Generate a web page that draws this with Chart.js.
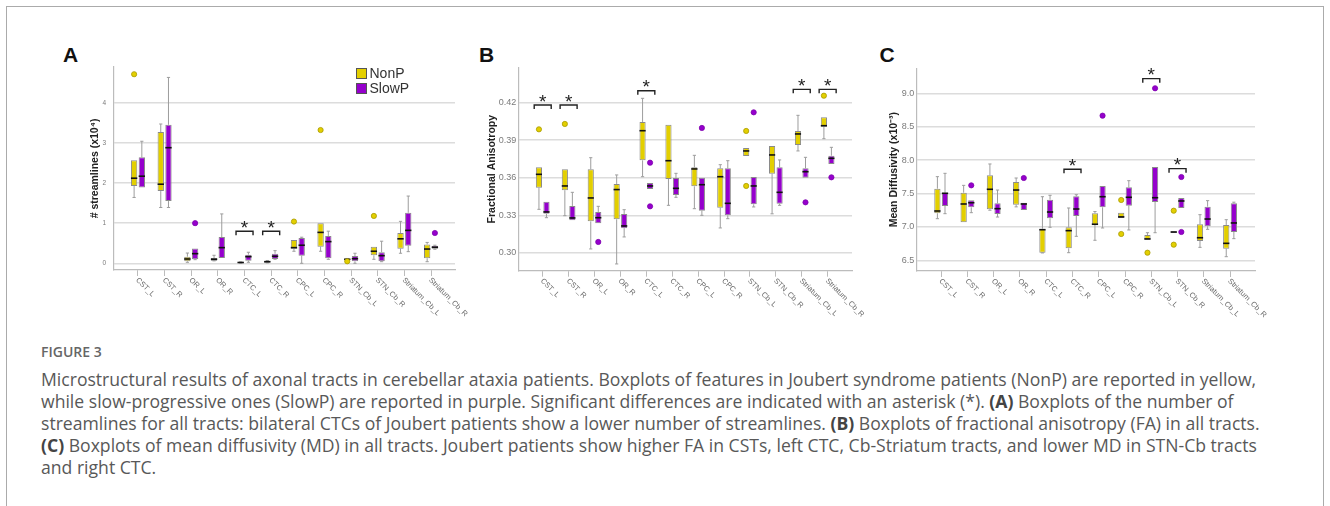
<!DOCTYPE html>
<html>
<head>
<meta charset="utf-8">
<script src="https://cdn.jsdelivr.net/npm/chart.js@4.4.0/dist/chart.umd.min.js"></script>
<style>
  body { margin: 0; background: #fff; width: 1330px; height: 506px; overflow: hidden; position: relative; font-family: "Liberation Sans", Arial, sans-serif; }
  #frame { position: absolute; left: 6px; top: 6px; width: 1316px; height: 600px; border: 1.5px solid #ababab; }
  .letter { position: absolute; font-size: 21px; line-height: 21px; font-weight: bold; color: #111; }
  .panel { position: absolute; top: 40px; width: 420px; height: 300px; }
  .key { position: absolute; width: 9px; height: 9px; border: 1.2px solid #555; }
  .keytext { position: absolute; font-size: 14px; line-height: 14px; color: #333; }
  #fig { position: absolute; left: 41px; top: 342px; font-family: "Open Sans", sans-serif; font-weight: 600; font-size: 14px; line-height: 20px; color: #666; }
  #caption { position: absolute; left: 41px; top: 369px; font-family: "Open Sans", sans-serif; font-size: 17.6px; line-height: 21.9px; color: #585858; white-space: nowrap; }
  #caption b { color: #444; }
</style>
</head>
<body>
<div id="frame"></div>

<div class="letter" style="left:63px;top:44px">A</div>
<div class="letter" style="left:479px;top:44px">B</div>
<div class="letter" style="left:879.5px;top:44px">C</div>

<div class="panel" style="left:40px;width:440px"><canvas id="chartA"></canvas></div>
<div class="panel" style="left:460px"><canvas id="chartB"></canvas></div>
<div class="panel" style="left:870px"><canvas id="chartC"></canvas></div>

<div class="key" style="left:356px;top:68px;background:#e3cf00"></div>
<div class="key" style="left:356px;top:83px;background:#9500cc"></div>
<div class="keytext" style="left:369.5px;top:66.4px">NonP</div>
<div class="keytext" style="left:369.5px;top:81.4px">SlowP</div>

<div id="fig">FIGURE 3</div>
<div id="caption">
  <div>Microstructural results of axonal tracts in cerebellar ataxia patients. Boxplots of features in Joubert syndrome patients (NonP) are reported in yellow,</div>
  <div>while slow-progressive ones (SlowP) are reported in purple. Significant differences are indicated with an asterisk (*). <b>(A)</b> Boxplots of the number of</div>
  <div>streamlines for all tracts: bilateral CTCs of Joubert patients show a lower number of streamlines. <b>(B)</b> Boxplots of fractional anisotropy (FA) in all tracts.</div>
  <div><b>(C)</b> Boxplots of mean diffusivity (MD) in all tracts. Joubert patients show higher FA in CSTs, left CTC, Cb-Striatum tracts, and lower MD in STN-Cb tracts</div>
  <div>and right CTC.</div>
</div>

<script>
'use strict';

const tracts = ['CST_L', 'CST_R', 'OR_L', 'OR_R', 'CTC_L', 'CTC_R', 'CPC_L', 'CPC_R',
  'STN_Cb_L', 'STN_Cb_R', 'Striatum_Cb_L', 'Striatum_Cb_R'];

// each box: [min, q1, median, q3, max]
const streamNonP = [
  [1.64, 1.925, 2.12, 2.57, 2.57], [1.39, 1.80, 1.97, 3.27, 3.47],
  [0.025, 0.05, 0.107, 0.165, 0.256], [0.06, 0.065, 0.10, 0.13, 0.20],
  [0.005, 0.01, 0.02, 0.03, 0.035], [0.01, 0.015, 0.04, 0.057, 0.07],
  [0.30, 0.365, 0.39, 0.58, 0.58], [0.30, 0.415, 0.77, 1.0, 1.0],
  [0.08, 0.08, 0.10, 0.115, 0.12], [0.10, 0.20, 0.30, 0.415, 0.415],
  [0.25, 0.365, 0.61, 0.755, 1.045], [0.04, 0.125, 0.355, 0.47, 0.52]
];
const streamSlowP = [
  [1.89, 1.89, 2.17, 2.64, 3.04], [1.39, 1.55, 2.88, 3.45, 4.63],
  [0.09, 0.10, 0.24, 0.37, 0.37], [0.13, 0.13, 0.39, 0.655, 1.23],
  [0.025, 0.065, 0.165, 0.215, 0.275], [0.10, 0.107, 0.175, 0.24, 0.315],
  [0.0, 0.19, 0.45, 0.63, 0.65], [0.10, 0.125, 0.54, 0.68, 0.80],
  [0.0, 0.05, 0.115, 0.18, 0.25], [0.04, 0.05, 0.19, 0.275, 0.55],
  [0.29, 0.44, 0.82, 1.26, 1.675], [0.35, 0.365, 0.40, 0.44, 0.45]
];
const streamOutNonP = [[4.71], [], [], [], [], [], [1.04], [3.32], [0.05], [1.18], [], []];
const streamOutSlowP = [[], [], [1.0], [], [], [], [], [], [], [], [], [0.755]];
const streamSig = [null, null, null, null, 0.8, 0.8, null, null, null, null, null, null];

const faNonP = [
  [0.3347, 0.352, 0.3627, 0.3683, 0.3683], [0.3296, 0.350, 0.3534, 0.3667, 0.3667],
  [0.303, 0.3251, 0.3438, 0.3667, 0.376], [0.291, 0.3267, 0.3505, 0.355, 0.3622],
  [0.3608, 0.3739, 0.3976, 0.4046, 0.4235], [0.3379, 0.359, 0.3736, 0.4024, 0.4024],
  [0.3352, 0.3531, 0.367, 0.3683, 0.3779], [0.3198, 0.336, 0.3608, 0.3675, 0.3704],
  [0.3774, 0.3774, 0.3814, 0.3838, 0.3838], [0.3311, 0.3632, 0.3782, 0.3854, 0.3854],
  [0.3814, 0.3862, 0.395, 0.3974, 0.4099], [0.3912, 0.4008, 0.4016, 0.4083, 0.4083]
];
const faSlowP = [
  [0.328, 0.3311, 0.3326, 0.3408, 0.3408], [0.3259, 0.3259, 0.3278, 0.3374, 0.3483],
  [0.3235, 0.3235, 0.328, 0.3326, 0.3371], [0.3126, 0.3196, 0.3214, 0.331, 0.3344],
  [0.351, 0.351, 0.3534, 0.3558, 0.3558], [0.3443, 0.3462, 0.3515, 0.3598, 0.3635],
  [0.3299, 0.3336, 0.3544, 0.36, 0.36], [0.3272, 0.3299, 0.3395, 0.3675, 0.3736],
  [0.3366, 0.3387, 0.3534, 0.3606, 0.3606], [0.3379, 0.3392, 0.3483, 0.3683, 0.3742],
  [0.36, 0.36, 0.3648, 0.3675, 0.3763], [0.371, 0.371, 0.3755, 0.3776, 0.3843]
];
const faOutNonP = [[0.3987], [0.403], [], [], [], [], [], [], [0.3974, 0.3534], [], [], [0.4256]];
const faOutSlowP = [[], [], [0.3086], [], [0.372, 0.3371], [], [0.3998], [], [0.4123], [], [0.3403], [0.3603]];
const faSig = [0.4182, 0.4182, null, null, 0.4296, null, null, null, null, null, 0.4307, 0.4307];

const mdNonP = [
  [7.123, 7.204, 7.238, 7.572, 7.752], [7.069, 7.069, 7.343, 7.512, 7.622],
  [7.25, 7.263, 7.563, 7.772, 7.942], [7.30, 7.333, 7.552, 7.672, 7.732],
  [6.61, 6.614, 6.958, 6.973, 7.452], [6.614, 6.68, 6.944, 6.994, 7.283],
  [6.80, 7.034, 7.04, 7.204, 7.23], [7.133, 7.133, 7.15, 7.213, 7.213],
  [6.809, 6.809, 6.82, 6.879, 6.913], [6.91, 6.91, 6.924, 6.93, 6.93],
  [6.694, 6.79, 6.838, 7.039, 7.183], [6.554, 6.674, 6.754, 7.029, 7.108]
];
const mdSlowP = [
  [7.198, 7.313, 7.503, 7.512, 7.802], [7.213, 7.293, 7.362, 7.398, 7.398],
  [7.148, 7.193, 7.273, 7.353, 7.552], [7.253, 7.253, 7.343, 7.362, 7.362],
  [6.994, 7.129, 7.223, 7.408, 7.473], [6.859, 7.163, 7.268, 7.458, 7.482],
  [6.984, 7.293, 7.452, 7.612, 7.612], [6.954, 7.318, 7.443, 7.593, 7.692],
  [6.913, 7.373, 7.437, 7.897, 7.897], [7.283, 7.283, 7.388, 7.433, 7.433],
  [6.964, 7.009, 7.118, 7.303, 7.393], [6.824, 6.924, 7.059, 7.353, 7.37]
];
const mdOutNonP = [[], [], [], [], [], [], [], [7.403, 6.894], [6.614], [7.243, 6.734], [], []];
const mdOutSlowP = [[], [7.622], [], [7.732], [], [], [8.665], [], [9.075], [7.747, 6.924], [], []];
const mdSig = [null, null, null, null, null, 7.862, null, null, 9.219, 7.872, null, null];

const yellow = '#e3cf00';
const purple = '#9500cc';
const groupColors = [yellow, purple];
const dotEdges = ['#a89a00', '#7d00ad'];


function boxLayer(stats, outs, sig) {
  return {
    id: 'boxLayer',
    beforeDatasetsDraw(chart) {
      let ctx = chart.ctx;
      let y = chart.scales.y;
      ctx.save();
      ctx.strokeStyle = '#9d9d9d';
      ctx.lineWidth = 1;
      stats.forEach((set, d) => {
        chart.getDatasetMeta(d).data.forEach((bar, i) => {
          let s = set[i];
          [[s[4], s[3]], [s[0], s[1]]].forEach(pair => {
            if (pair[0] === pair[1]) return;
            let yEnd = y.getPixelForValue(pair[0]);
            let yBox = y.getPixelForValue(pair[1]);
            ctx.beginPath();
            ctx.moveTo(bar.x, yBox);
            ctx.lineTo(bar.x, yEnd);
            ctx.moveTo(bar.x - 1.6, yEnd);
            ctx.lineTo(bar.x + 1.6, yEnd);
            ctx.stroke();
          });
        });
      });
      ctx.restore();
    },
    afterDatasetsDraw(chart) {
      let ctx = chart.ctx;
      let x = chart.scales.x;
      let y = chart.scales.y;
      ctx.save();
      stats.forEach((set, d) => {
        chart.getDatasetMeta(d).data.forEach((bar, i) => {
          let ym = y.getPixelForValue(set[i][2]);
          ctx.strokeStyle = '#111';
          ctx.lineWidth = 1.6;
          ctx.beginPath();
          ctx.moveTo(bar.x - bar.width / 2, ym);
          ctx.lineTo(bar.x + bar.width / 2, ym);
          ctx.stroke();
          outs[d][i].forEach(v => {
            ctx.beginPath();
            ctx.arc(bar.x, y.getPixelForValue(v), 2.6, 0, Math.PI * 2);
            ctx.fillStyle = groupColors[d];
            ctx.fill();
            ctx.strokeStyle = dotEdges[d];
            ctx.lineWidth = 0.8;
            ctx.stroke();
          });
        });
      });
      // significance brackets
      ctx.strokeStyle = '#222';
      ctx.fillStyle = '#222';
      ctx.lineWidth = 1.4;
      ctx.font = '19px "Liberation Sans"';
      ctx.textAlign = 'center';
      ctx.textBaseline = 'alphabetic';
      sig.forEach((lvl, i) => {
        if (lvl === null) return;
        let cx = x.getPixelForValue(i);
        let yy = y.getPixelForValue(lvl);
        ctx.beginPath();
        ctx.moveTo(cx - 8.5, yy + 4);
        ctx.lineTo(cx - 8.5, yy);
        ctx.lineTo(cx + 8.5, yy);
        ctx.lineTo(cx + 8.5, yy + 4);
        ctx.stroke();
        ctx.fillText('*', cx, yy + 2.6);
      });
      ctx.restore();
    },
    afterDraw(chart) {
      let ctx = chart.ctx;
      let x = chart.scales.x;
      let bottom = chart.chartArea.bottom;
      ctx.save();
      ctx.font = '7.5px "Liberation Sans"';
      ctx.fillStyle = '#6a6a6a';
      ctx.textAlign = 'left';
      ctx.textBaseline = 'middle';
      tracts.forEach((t, i) => {
        ctx.save();
        ctx.translate(x.getPixelForValue(i) - 1, bottom + 9);
        ctx.rotate(Math.PI / 4);
        ctx.fillText(t, 0, 0);
        ctx.restore();
      });
      ctx.restore();
    }
  };
}

function makePanel(id, p) {
  let datasets = [p.nonP, p.slowP].map((set, d) => ({
    label: d === 0 ? 'NonP' : 'SlowP',
    data: set.map((s, i) => ({ x: i, y: [s[1], s[3]] })),
    backgroundColor: groupColors[d],
    borderColor: '#8a8a8a',
    borderWidth: 1,
    borderSkipped: false,
    categoryPercentage: 0.58,
    barPercentage: 0.82
  }));

  new Chart(document.getElementById(id), {
    type: 'bar',
    data: { datasets: datasets },
    options: {
      responsive: false,
      animation: false,
      layout: { padding: p.padding },
      plugins: { legend: { display: false }, tooltip: { enabled: false } },
      scales: {
        x: {
          type: 'linear',
          min: p.xMin,
          max: p.xMax,
          offset: false,
          afterFit: s => { s.height = 60; },
          border: { color: '#bcbcbc', width: 1.2 },
          grid: { drawOnChartArea: false, drawTicks: true, tickLength: 6, tickColor: '#bcbcbc', offset: false },
          ticks: { stepSize: 1, includeBounds: false, maxTicksLimit: 20, callback: () => '' }
        },
        y: {
          min: p.yMin,
          max: p.yMax,
          afterFit: s => { s.width = p.yWidth; },
          border: { color: '#bcbcbc', width: 1.2 },
          grid: { color: '#dcdcdc', lineWidth: 1.4, drawTicks: false },
          ticks: {
            stepSize: p.step,
            includeBounds: false,
            padding: p.tickPad,
            color: '#7a7a7a',
            font: { family: 'Liberation Sans', size: p.tickSize },
            callback: v => v.toFixed(p.digits)
          },
          title: {
            display: true,
            text: p.title,
            color: '#222',
            font: { family: 'Liberation Sans', size: 10.5, weight: 'bold' },
            padding: { top: p.titlePad, bottom: 0 }
          }
        }
      }
    },
    plugins: [boxLayer([p.nonP, p.slowP], [p.outNonP, p.outSlowP], p.sig)]
  });
}

document.getElementById('chartA').width = 440;
document.getElementById('chartA').height = 300;
['chartB', 'chartC'].forEach(c => {
  document.getElementById(c).width = 420;
  document.getElementById(c).height = 300;
});

makePanel('chartA', {
  nonP: streamNonP, slowP: streamSlowP, outNonP: streamOutNonP, outSlowP: streamOutSlowP, sig: streamSig,
  title: '# streamlines (x10\u2074)', yMin: -0.167, yMax: 4.89, step: 1, digits: 0,
  xMin: -0.9, xMax: 11.9, yWidth: 27, tickPad: 8, tickSize: 6.5, titlePad: 2,
  padding: { left: 47, right: 25, top: 27, bottom: 10 }
});
makePanel('chartB', {
  nonP: faNonP, slowP: faSlowP, outNonP: faOutNonP, outSlowP: faOutSlowP, sig: faSig,
  title: 'Fractional Anisotropy', yMin: 0.2856, yMax: 0.448, step: 0.03, digits: 2,
  xMin: -0.942, xMax: 11.94, yWidth: 34.3, tickPad: 2, tickSize: 9, titlePad: 2,
  padding: { left: 24, right: 28, top: 27.7, bottom: 9.3 }
});
makePanel('chartC', {
  nonP: mdNonP, slowP: mdSlowP, outNonP: mdOutNonP, outSlowP: mdOutSlowP, sig: mdSig,
  title: 'Mean Diffusivity (x10\u207B\u00B3)', yMin: 6.34, yMax: 9.374, step: 0.5, digits: 1,
  xMin: -0.933, xMax: 11.95, yWidth: 30.7, tickPad: 2.4, tickSize: 9, titlePad: 2,
  padding: { left: 16, right: 35, top: 28.3, bottom: 9 }
});
</script>
</body>
</html>
